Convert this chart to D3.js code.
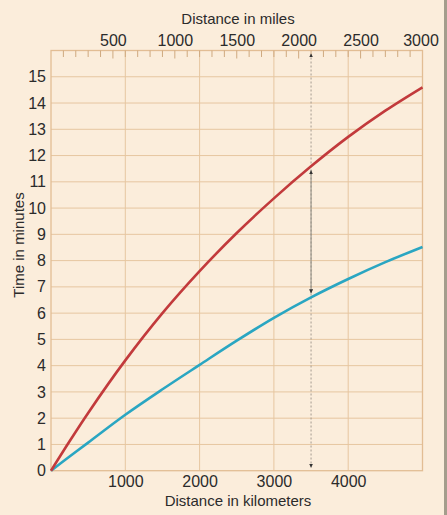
<!DOCTYPE html>
<html>
<head>
<meta charset="utf-8">
<script src="https://cdn.jsdelivr.net/npm/d3@7"></script>
<style>
  html, body { margin: 0; padding: 0; background: #fbeddb; }
  svg { display: block; }
  text { font-family: "Liberation Sans", Arial, sans-serif; fill: #2b2b2b; }
</style>
</head>
<body>
<svg id="chart" width="447" height="515"></svg>
<script>
// ---- data ----
const distanceKm   = [0, 250, 500, 1000, 1500, 2000, 2500, 3000, 3500, 4000, 4500, 5000];
const redMinutes   = [0, 1.12, 2.2, 4.2, 6.0, 7.6, 9.05, 10.37, 11.59, 12.71, 13.71, 14.6];
const blueMinutes  = [0, 0.54, 1.07, 2.13, 3.1, 4.03, 4.95, 5.82, 6.6, 7.3, 7.94, 8.52];
const kmTicks      = [1000, 2000, 3000, 4000];
const mileLabels   = [500, 1000, 1500, 2000, 2500, 3000];
const mileMinor    = d3.range(100, 3000, 100);
const minuteTicks  = d3.range(0, 16, 1);
const markerKm     = 3500;

// ---- layout ----
const svg = d3.select("#chart");
const L = 51, R = 422.5, T = 50.5, B = 470.7;
const x = d3.scaleLinear().domain([0, 5000]).range([L, R]);
const xMiles = d3.scaleLinear().domain([0, 3000]).range([L, R]);
const y = d3.scaleLinear().domain([0, 16]).range([B, T]);
const FONT = "'Liberation Sans', Arial, sans-serif";

svg.append("rect").attr("width", 447).attr("height", 515).attr("fill", "#fbeddb");
svg.append("rect").attr("x", 444).attr("y", 0).attr("width", 3).attr("height", 515).attr("fill", "#a49d8c");

const gridColor = "#e6c6a0";

// horizontal grid
svg.append("g").selectAll("line").data(minuteTicks.filter(d => d > 0)).join("line")
  .attr("x1", L).attr("x2", R)
  .attr("y1", d => y(d)).attr("y2", d => y(d))
  .attr("stroke", gridColor).attr("stroke-width", 1);
// vertical grid
svg.append("g").selectAll("line").data(kmTicks).join("line")
  .attr("x1", d => x(d)).attr("x2", d => x(d))
  .attr("y1", T).attr("y2", B)
  .attr("stroke", gridColor).attr("stroke-width", 1);
// frame
svg.append("rect").attr("x", L).attr("y", T).attr("width", R - L).attr("height", B - T)
  .attr("fill", "none").attr("stroke", "#e2bd94").attr("stroke-width", 1.3);

// top mile ticks
svg.append("g").selectAll("line").data(mileMinor).join("line")
  .attr("x1", d => xMiles(d)).attr("x2", d => xMiles(d))
  .attr("y1", T).attr("y2", d => T + (d % 500 === 0 ? 8 : 6.5))
  .attr("stroke", "#cfa97f").attr("stroke-width", 1);

// axes labels via d3 axes (styled)
const yAxis = svg.append("g").attr("transform", `translate(${L},0)`)
  .call(d3.axisLeft(y).tickValues(minuteTicks).tickFormat(d3.format("d")).tickSize(0).tickPadding(5));
yAxis.select(".domain").remove();
yAxis.selectAll("text").style("font-size", "16px").attr("fill", "#2b2b2b").style("font-family", FONT);

const xAxis = svg.append("g").attr("transform", `translate(0,${B})`)
  .call(d3.axisBottom(x).tickValues(kmTicks).tickFormat(d3.format("d")).tickSize(0).tickPadding(5));
xAxis.select(".domain").remove();
xAxis.selectAll("text").style("font-size", "16px").attr("fill", "#2b2b2b").style("font-family", FONT);

const topAxis = svg.append("g").attr("transform", `translate(0,${T})`)
  .call(d3.axisTop(xMiles).tickValues(mileLabels).tickFormat(d3.format("d")).tickSize(0).tickPadding(5));
topAxis.select(".domain").remove();
topAxis.selectAll("text").style("font-size", "16px").attr("fill", "#2b2b2b").style("font-family", FONT)
  .attr("dx", (d, i) => i === mileLabels.length - 1 ? -2 : 0);

// titles
svg.append("text").attr("x", 238).attr("y", 24).attr("text-anchor", "middle")
  .style("font-size", "15px").text("Distance in miles");
svg.append("text").attr("x", 238).attr("y", 506).attr("text-anchor", "middle")
  .style("font-size", "15px").text("Distance in kilometers");
svg.append("text").attr("transform", "translate(24,245) rotate(-90)").attr("text-anchor", "middle")
  .style("font-size", "15px").text("Time in minutes");

// marker arrows
const defs = svg.append("defs");
["up", "down"].forEach(dir => {
  defs.append("marker").attr("id", "arr-" + dir)
    .attr("viewBox", "0 0 6 6").attr("refX", 3).attr("refY", dir === "up" ? 0 : 6)
    .attr("markerWidth", 4).attr("markerHeight", 4).attr("orient", "0")
    .append("path")
    .attr("d", dir === "up" ? "M0,6 L3,0 L6,6 Z" : "M0,0 L3,6 L6,0 Z")
    .attr("fill", "#333");
});

const mx = x(markerKm);
const iM = distanceKm.indexOf(markerKm);
const yRed = y(redMinutes[iM]), yBlue = y(blueMinutes[iM]);
// dotted full-height line
svg.append("line").attr("x1", mx).attr("x2", mx).attr("y1", T + 3).attr("y2", B - 3)
  .attr("stroke", "#9a9288").attr("stroke-width", 0.9).attr("stroke-dasharray", "2,2")
  .attr("marker-start", "url(#arr-up)").attr("marker-end", "url(#arr-down)");
// solid segment between curves
svg.append("line").attr("x1", mx).attr("x2", mx).attr("y1", yRed + 4).attr("y2", yBlue - 4)
  .attr("stroke", "#8f8a80").attr("stroke-width", 1)
  .attr("marker-start", "url(#arr-up)").attr("marker-end", "url(#arr-down)");

// curves
const line = d3.line().x(d => x(d[0])).y(d => y(d[1])).curve(d3.curveCatmullRom.alpha(0.5));
svg.append("path").datum(distanceKm.map((d, i) => [d, blueMinutes[i]]))
  .attr("d", line).attr("fill", "none").attr("stroke", "#2aa6c2").attr("stroke-width", 2.6);
svg.append("path").datum(distanceKm.map((d, i) => [d, redMinutes[i]]))
  .attr("d", line).attr("fill", "none").attr("stroke", "#c23a3c").attr("stroke-width", 2.6);
</script>
</body>
</html>
